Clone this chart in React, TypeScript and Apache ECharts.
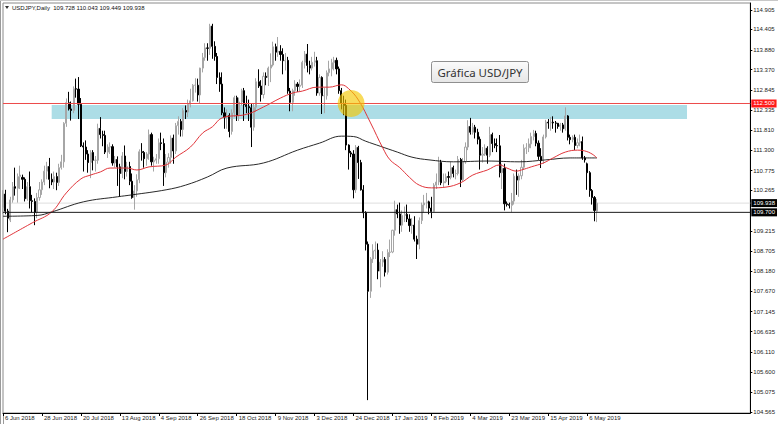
import React, { useEffect, useRef } from "react";
import * as echarts from "echarts";

const symbolName = "USDJPY";
const timeframe = "Daily";
const chartTitle = "Gráfica USD/JPY";

// time axis: one label every 16 bars
const dateLabels = [
  "6 Jun 2018", "28 Jun 2018", "20 Jul 2018", "13 Aug 2018", "4 Sep 2018", "26 Sep 2018",
  "18 Oct 2018", "9 Nov 2018", "3 Dec 2018", "24 Dec 2018", "17 Jan 2019", "8 Feb 2019",
  "4 Mar 2019", "23 Mar 2019", "15 Apr 2019", "6 May 2019",
];
const barsPerLabel = 16;
const totalSlots = 308; // bars + empty chart-shift area

// price axis labels
const priceTicks = [
  114.905, 114.405, 113.88, 113.37, 112.845, 112.335, 111.81, 111.3, 110.775, 110.265,
  109.215, 108.705, 108.18, 107.67, 107.145, 106.635, 106.11, 105.6, 105.075, 104.565,
];
const priceMin = 104.539;
const priceMax = 115.085;

// [open, high, low, close]
const candles: number[][] = [
  [109.82,110.27,109.66,110.17],[110.17,110.28,109.65,109.73],[109.73,109.79,109.19,109.55],[109.50,110.10,109.45,110.02],
  [110.02,110.48,109.95,110.36],[110.36,110.85,110.13,110.32],[110.32,110.70,109.95,110.62],[110.62,110.90,110.30,110.66],
  [110.60,110.67,110.30,110.55],[110.55,110.60,109.98,110.05],[110.05,110.48,110.00,110.36],[110.36,110.75,109.80,110.00],
  [110.00,110.15,109.70,109.98],[109.98,110.06,109.37,109.70],[109.70,110.20,109.55,110.08],[110.08,110.48,110.00,110.28],
  [110.28,110.55,110.15,110.48],[110.48,110.90,110.40,110.76],[110.76,111.00,110.55,110.88],[110.88,111.10,110.32,110.55],
  [110.55,110.70,110.40,110.48],[110.48,110.75,110.30,110.62],[110.62,110.72,110.27,110.47],[110.47,110.95,110.38,110.85],
  [110.85,111.18,110.80,111.00],[111.00,112.02,110.85,111.99],[111.99,112.63,111.90,112.52],[112.52,112.80,112.32,112.36],
  [112.36,112.55,112.06,112.32],[112.32,112.94,112.25,112.88],[112.88,113.14,112.65,112.87],[112.87,113.18,112.10,112.48],
  [112.48,112.64,111.38,111.41],[111.41,111.50,110.75,111.38],[111.38,111.55,111.05,111.20],[111.20,111.30,110.72,110.98],
  [110.98,111.30,110.58,111.24],[111.24,111.30,110.78,111.04],[111.04,111.15,110.75,111.04],[111.04,111.98,110.95,111.86],
  [111.86,112.15,111.60,111.70],[111.70,111.80,111.40,111.68],[111.68,111.80,111.20,111.25],[111.25,111.45,111.10,111.38],
  [111.38,111.50,111.20,111.39],[111.39,111.45,110.90,110.97],[110.97,111.15,110.85,111.06],[111.06,111.14,110.38,110.87],
  [110.87,110.95,110.11,110.70],[110.70,111.25,110.58,111.15],[111.15,111.42,110.55,110.75],[110.75,111.00,110.62,110.88],
  [110.88,111.00,110.40,110.50],[110.50,110.70,110.05,110.08],[110.08,110.40,109.77,110.25],[110.25,110.68,110.10,110.54],
  [110.54,111.32,110.45,111.26],[111.26,111.48,111.03,111.24],[111.24,111.28,110.85,111.08],[111.08,111.25,110.90,111.20],
  [111.20,111.83,111.05,111.70],[111.70,111.75,110.90,111.00],[111.00,111.13,110.75,111.04],[111.04,111.20,110.95,111.08],
  [111.08,111.60,110.95,111.49],[111.49,111.75,111.30,111.47],[111.47,111.60,110.38,110.72],[110.72,111.20,110.60,110.99],
  [110.99,111.22,110.85,111.11],[111.11,111.68,110.95,111.61],[111.61,111.70,110.95,111.28],[111.28,112.00,111.20,111.93],
  [111.93,112.17,111.70,112.04],[112.04,112.10,111.65,111.83],[111.83,112.38,111.65,112.32],[112.32,112.45,112.10,112.28],
  [112.28,112.60,112.15,112.48],[112.48,112.88,112.40,112.57],[112.57,113.00,112.55,112.97],[112.97,113.15,112.78,112.97],
  [112.97,113.14,112.55,112.72],[112.72,113.42,112.50,113.41],[113.41,113.80,113.30,113.68],[113.68,114.05,113.60,113.93],
  [113.93,114.05,113.60,113.92],[113.92,114.55,113.75,114.49],[114.49,114.55,113.65,113.97],[113.97,114.10,113.60,113.71],
  [113.71,113.80,113.00,113.17],[113.17,113.30,112.80,113.00],[113.00,113.30,112.20,112.26],[112.26,112.40,111.85,112.15],
  [112.15,112.35,111.85,112.19],[112.19,112.25,111.63,111.78],[111.78,112.35,111.70,112.26],[112.26,112.70,112.15,112.65],
  [112.65,112.70,112.05,112.19],[112.19,112.65,112.05,112.54],[112.54,112.88,112.45,112.83],[112.83,112.90,112.05,112.47],
  [112.47,112.70,112.25,112.42],[112.42,112.60,112.05,112.39],[112.39,112.50,111.38,111.89],[111.89,112.50,111.80,112.40],
  [112.40,113.15,112.28,113.06],[113.06,113.38,112.90,112.95],[112.95,113.10,112.55,112.73],[112.73,113.30,112.63,113.20],
  [113.20,113.30,112.97,113.17],[113.17,113.45,112.95,113.41],[113.41,113.79,113.05,113.49],[113.49,114.09,113.45,113.96],
  [113.96,114.04,113.60,113.82],[113.82,114.21,113.70,113.84],[113.84,114.00,113.60,113.76],[113.76,113.92,113.25,113.60],
  [113.60,113.80,113.35,113.61],[113.61,113.70,112.75,112.82],[112.82,112.90,112.30,112.53],[112.53,112.88,112.30,112.83],
  [112.83,113.10,112.70,113.00],[113.00,113.05,112.80,112.94],[112.94,113.12,112.80,112.97],[112.97,113.60,112.90,113.56],
  [113.56,113.85,113.40,113.77],[113.77,114.03,113.30,113.48],[113.48,113.60,113.25,113.41],[113.41,113.70,113.35,113.56],
  [113.56,113.83,113.45,113.60],[113.60,113.70,112.70,112.77],[112.77,113.25,112.70,113.17],[113.17,113.20,112.23,112.70],
  [112.70,112.90,112.25,112.70],[112.70,113.35,112.60,113.29],[113.29,113.60,113.20,113.39],[113.39,113.65,113.20,113.55],
  [113.55,113.70,113.35,113.61],[113.61,113.68,113.25,113.39],[113.39,113.45,112.75,112.83],[112.83,112.90,112.35,112.50],
  [112.50,112.70,112.20,112.45],[112.45,112.60,111.30,111.43],[111.43,111.45,110.80,111.23],[111.23,111.28,111.12,111.20],
  [111.20,111.30,110.06,110.28],[110.28,111.43,110.20,111.37],[111.37,111.41,110.56,110.98],[110.98,111.05,110.26,110.28],
  [110.28,110.40,109.55,109.69],[109.69,109.73,108.72,108.88],[108.88,108.95,104.87,107.67],[107.67,108.55,107.50,108.50],
  [108.50,108.88,108.40,108.71],[108.71,108.95,108.50,108.73],[108.73,108.90,107.98,108.19],[108.19,108.50,107.77,108.42],
  [108.42,108.70,108.30,108.49],[108.49,108.55,108.05,108.16],[108.16,108.75,108.10,108.67],[108.67,109.00,108.55,108.68],
  [108.68,109.25,108.65,109.24],[109.24,110.00,109.10,109.77],[109.77,109.90,109.55,109.66],[109.66,109.95,109.15,109.37],
  [109.37,109.75,109.20,109.62],[109.62,109.85,109.45,109.65],[109.65,109.90,109.45,109.53],[109.53,109.65,109.20,109.36],
  [109.36,109.55,109.15,109.37],[109.37,109.60,108.95,109.01],[109.01,109.10,108.50,108.88],[108.88,109.57,108.75,109.49],
  [109.49,109.95,109.40,109.89],[109.89,110.15,109.70,109.94],[109.94,110.20,109.80,109.97],[109.97,110.00,109.65,109.81],
  [109.81,110.10,109.55,109.72],[109.72,110.45,109.70,110.40],[110.40,110.70,110.30,110.48],[110.48,111.13,110.40,110.98],
  [110.98,111.05,110.40,110.46],[110.46,110.70,110.35,110.49],[110.49,110.70,110.45,110.62],[110.62,110.75,110.40,110.60],
  [110.60,111.00,110.55,110.85],[110.85,110.90,110.60,110.70],[110.70,110.80,110.55,110.70],[110.70,111.15,110.65,111.06],
  [111.06,111.10,110.35,110.54],[110.54,111.10,110.50,111.00],[111.00,111.50,110.95,111.38],[111.38,112.07,111.30,111.91],
  [111.91,112.13,111.70,111.76],[111.76,112.00,111.70,111.89],[111.89,111.95,111.60,111.76],[111.76,111.85,111.45,111.58],
  [111.58,111.65,110.80,111.17],[111.17,111.38,110.98,111.20],[111.20,111.45,111.15,111.35],[111.35,111.40,110.95,111.17],
  [111.17,111.90,111.12,111.70],[111.70,111.75,111.25,111.47],[111.47,111.60,111.35,111.42],[111.42,111.60,111.25,111.41],
  [111.41,111.69,110.60,110.72],[110.72,110.95,110.30,110.83],[110.83,110.95,109.75,109.92],[109.92,109.98,109.85,109.90],
  [109.90,109.95,109.80,109.88],[109.88,110.20,109.70,109.99],[109.99,110.70,109.90,110.63],[110.63,110.80,110.15,110.53],
  [110.53,110.70,110.10,110.64],[110.64,111.05,110.55,110.86],[110.86,111.45,110.80,111.35],[111.35,111.48,111.20,111.36],
  [111.36,111.60,111.25,111.46],[111.46,111.75,111.35,111.65],[111.65,111.82,111.55,111.73],[111.73,111.80,111.40,111.48],
  [111.48,111.55,111.05,111.14],[111.14,111.35,110.84,111.03],[111.03,111.70,110.95,111.64],[111.64,112.08,111.60,112.02],
  [112.02,112.10,111.85,112.00],[112.00,112.15,111.80,112.02],[112.02,112.17,111.85,112.00],[112.00,112.05,111.75,111.99],
  [111.99,112.00,111.85,111.91],[111.91,112.00,111.80,111.95],[111.95,112.00,111.75,111.85],[111.85,112.40,111.80,112.18],
  [112.18,112.20,111.55,111.63],[111.63,111.70,111.45,111.57],[111.57,111.68,111.50,111.63],[111.63,111.70,111.30,111.42],
  [111.42,111.60,111.35,111.49],[111.49,111.70,111.40,111.52],[111.52,111.65,111.05,111.10],[111.10,111.15,110.98,111.05],
  [110.95,110.98,110.28,110.72],[110.72,110.76,110.10,110.26],[110.26,110.30,109.90,110.08],[110.08,110.12,109.47,109.75],
  [109.728,110.043,109.449,109.938],
];

// moving averages: [bar index, value]
const maFast: number[][] = [
  [0,109.01],[12,109.43],[20,109.71],[26,110.2],[32,110.56],[36,110.66],[40,110.74],[44,110.84],[51,110.84],[55,110.79],
  [60,110.87],[67,110.92],[71,111.12],[77,111.38],[82,111.74],[86,111.9],[90,112.13],[100,112.22],[107,112.41],[114,112.64],
  [119,112.77],[123,112.82],[129,112.92],[134,112.92],[139,112.98],[142,112.88],[146,112.59],[151,112.0],[156,111.36],[159,111.05],
  [163,110.85],[167,110.6],[171,110.4],[176,110.33],[182,110.35],[188,110.46],[193,110.66],[199,110.79],[204,110.92],[207,110.84],
  [211,110.76],[213,110.79],[217,110.87],[222,110.97],[226,111.1],[231,111.25],[236,111.3],[239,111.28],[242,111.2],[244,111.1],
];
const maSlow: number[][] = [
  [0,109.6],[14,109.62],[20,109.71],[33,109.97],[47,110.1],[53,110.15],[67,110.28],[75,110.4],[84,110.61],[92,110.84],
  [107,110.97],[121,111.3],[130,111.48],[139,111.66],[144,111.65],[149,111.53],[155,111.4],[162,111.25],[168,111.12],[175,111.05],
  [185,111.0],[199,111.02],[212,111.0],[223,111.05],[233,111.1],[244,111.1],
];

const resistanceLevel = 112.5;
const supportLevel = 109.7;
const zoneBars = [20, 281];
const zonePrices = [112.1, 112.46];
const highlightPoint = [143, 112.5];

const categories = Array.from({ length: totalSlots }, (_, i) => String(i));
const isLabelIdx = (i: number) => i % barsPerLabel === 0 && i / barsPerLabel < dateLabels.length;

export default function App() {
  const ref = useRef<HTMLDivElement>(null);

  useEffect(() => {
    if (!ref.current) return;
    const chart = echarts.init(ref.current, undefined, { renderer: "svg" });
    const last = candles[candles.length - 1];
    const font = "Liberation Sans";

    // a horizontal price level: a two-point line series, labelled at its right end
    const levelSeries = (value: number, lineColor: string, boxColor: string, z: number) => ({
      type: "line",
      data: [
        [categories[0], value],
        [categories[totalSlots - 1], value],
      ],
      z,
      silent: true,
      color: lineColor,
      showSymbol: false,
      symbol: "none",
      lineStyle: { color: lineColor, width: 1, type: "solid" },
      emphasis: { disabled: true },
      endLabel: {
        show: true,
        distance: 1,
        formatter: () => value.toFixed(3),
        color: "#ffffff",
        backgroundColor: boxColor,
        fontSize: 6,
        fontFamily: font,
        padding: [1, 2, 1, 2],
      },
    });

    chart.setOption({
      animation: false,
      backgroundColor: "#ffffff",
      grid: {
        left: 3, right: 27, top: 3, bottom: 11,
        show: true, borderColor: "#8a8a8a", borderWidth: 1, backgroundColor: "transparent",
      },
      xAxis: {
        type: "category",
        data: categories,
        boundaryGap: false,
        axisLine: { lineStyle: { color: "#000000", width: 1 } },
        axisTick: { show: true, interval: (i: number) => isLabelIdx(i), length: 3, lineStyle: { color: "#000000" } },
        axisLabel: {
          interval: (i: number) => isLabelIdx(i),
          formatter: (_v: string, i: number) => dateLabels[i / barsPerLabel] ?? "",
          align: "left",
          margin: 2,
          fontSize: 6,
          fontFamily: font,
          color: "#222222",
          padding: [0, 0, 0, 2],
        },
        splitLine: { show: false },
      },
      yAxis: {
        type: "value",
        position: "right",
        min: priceMin,
        max: priceMax,
        axisLine: { show: true, lineStyle: { color: "#000000" } },
        axisTick: { show: true, customValues: priceTicks, length: 2, lineStyle: { color: "#000000" } },
        axisLabel: {
          customValues: priceTicks,
          formatter: (v: number) => v.toFixed(3),
          fontSize: 6,
          fontFamily: font,
          margin: 3,
          color: "#222222",
        },
        splitLine: { show: false },
      },
      series: [
        {
          type: "line",
          data: [],
          z: 1,
          silent: true,
          markArea: {
            silent: true,
            itemStyle: { color: "#acdde6" },
            data: [[
              { xAxis: categories[zoneBars[0]], yAxis: zonePrices[1] },
              { xAxis: categories[zoneBars[1]], yAxis: zonePrices[0] },
            ]],
          },
        },
        levelSeries(last[3], "#dedede", "#000000", 2),
        {
          type: "candlestick",
          data: candles.map(([o, h, l, c]) => [o, c, l, h]),
          barWidth: 1.6,
          z: 3,
          itemStyle: {
            color: "#ffffff",
            color0: "#000000",
            borderColor: "#a6a6a6",
            borderColor0: "#000000",
            borderWidth: 1,
          },
        },
        {
          type: "line",
          data: maSlow,
          smooth: 0.4,
          showSymbol: false,
          z: 4,
          lineStyle: { color: "#111111", width: 0.9 },
        },
        {
          type: "line",
          data: maFast,
          smooth: 0.4,
          showSymbol: false,
          z: 4,
          lineStyle: { color: "#e0353b", width: 1 },
        },
        levelSeries(resistanceLevel, "#ec4a4a", "#ff1a1a", 5),
        levelSeries(supportLevel, "#1a1a1a", "#000000", 5),
        {
          type: "scatter",
          data: [[categories[highlightPoint[0]], highlightPoint[1]]],
          symbolSize: 27,
          z: 6,
          silent: true,
          itemStyle: { color: "rgba(244,198,0,0.8)" },
        },
      ],
      graphic: [
        { type: "line", shape: { x1: 0.5, y1: 0, x2: 0.5, y2: 424 }, style: { stroke: "#9a9a9a", lineWidth: 1 } },
        { type: "line", shape: { x1: 3.5, y1: 413, x2: 3.5, y2: 424 }, style: { stroke: "#9a9a9a", lineWidth: 1 } },
        { type: "line", shape: { x1: 0, y1: 0.5, x2: 778, y2: 0.5 }, style: { stroke: "#c8c8c8", lineWidth: 1 } },
        { type: "polygon", shape: { points: [[5, 6], [9, 6], [7, 9]] }, style: { fill: "#333333" } },
        {
          type: "text",
          left: 12,
          top: 4.5,
          style: {
            text: `${symbolName},${timeframe}  ${last[0].toFixed(3)} ${last[1].toFixed(3)} ${last[2].toFixed(3)} ${last[3].toFixed(3)}`,
            fontSize: 6,
            fontFamily: font,
            fill: "#111111",
          },
        },
        {
          type: "group",
          left: 431,
          top: 61,
          children: [
            {
              type: "rect",
              shape: { x: 0, y: 0, width: 97, height: 21, r: 2 },
              style: {
                fill: new echarts.graphic.LinearGradient(0, 0, 0, 1, [
                  { offset: 0, color: "#fbfbfb" },
                  { offset: 1, color: "#e6e6e6" },
                ]),
                stroke: "#8f8f8f",
                lineWidth: 1,
              },
            },
            {
              type: "text",
              x: 48.5,
              y: 10.5,
              style: {
                text: chartTitle,
                fontSize: 11.5,
                fontFamily: "Noto Sans",
                fill: "#333333",
                align: "center",
                verticalAlign: "middle",
              },
            },
          ],
        },
      ],
    });

    return () => chart.dispose();
  }, []);

  return (
    <div
      ref={ref}
      style={{ position: "absolute", left: 0, top: 0, width: 778, height: 424, background: "#ffffff" }}
    />
  );
}
